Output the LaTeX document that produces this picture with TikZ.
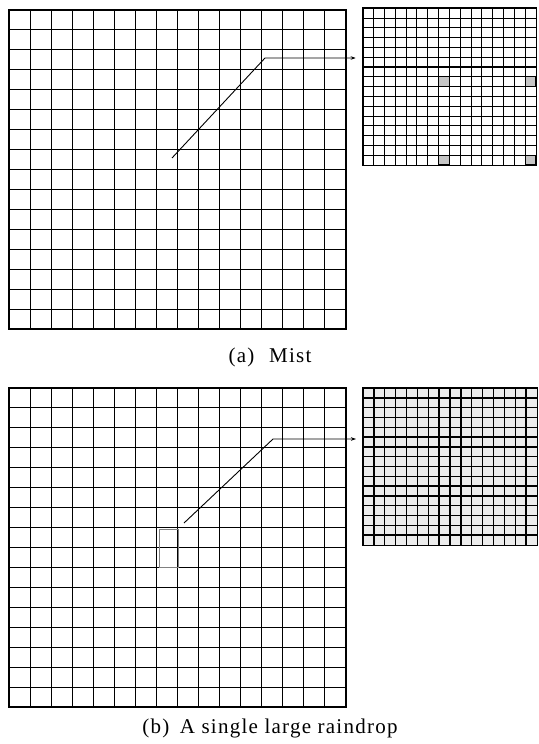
\documentclass[tikz,border=0pt]{standalone}
\usepackage{fontspec}
\setmainfont{Liberation Serif}
\usetikzlibrary{arrows.meta}
\begin{document}
\begin{tikzpicture}[x=1pt,y=-1pt,
  gridline/.style={line width=0.9pt,black},
  gridframe/.style={line width=1.7pt,black},
  smallline/.style={line width=0.9pt,black},
  denseline/.style={line width=1.4pt,black},
  dropcell/.style={fill=gray!45,draw=black,line width=1.2pt},
  connector/.style={line width=0.9pt,-{Stealth[length=5pt,width=3.5pt]}},
  caption/.style={font=\fontsize{21}{24}\selectfont\addfontfeatures{LetterSpace=6},anchor=base,inner sep=0pt}]
\useasboundingbox (0,0) rectangle (538,744);
% ---------- (a) Mist : large grid ----------
\foreach \i in {1,...,15}{
  \draw[gridline] ({9+\i*21.0625},10) -- ({9+\i*21.0625},329);
  \draw[gridline] (9,{10+\i*19.9375}) -- (346,{10+\i*19.9375});
}
\draw[gridframe] (9,10) rectangle (346,329);
% small grid (a)
\node[inner sep=0pt,minimum width=173.3pt,minimum height=156.7pt,anchor=north west] (sgA) at (362.7,8.3) {};
\foreach \c/\r in {7/7,15/7,7/15,15/15}{
  \draw[dropcell] ({362.7+\c*10.83},{8.3+\r*9.79}) rectangle ({362.7+(\c+1)*10.83},{8.3+(\r+1)*9.79});
}
\foreach \i in {1,...,15}{
  \draw[smallline] ({362.7+\i*10.83},8.3) -- ({362.7+\i*10.83},165);
  \draw[smallline] (362.7,{8.3+\i*9.79}) -- (536,{8.3+\i*9.79});
}
\draw[line width=1.2pt] (362.7,{8.3+6*9.79}) -- (536,{8.3+6*9.79});
\draw[gridframe] (sgA.north west) rectangle (sgA.south east);
% connector (a)
\coordinate (startA) at (172,158);
\coordinate (kinkA) at (265,58);
\draw[connector,shorten >=7pt] (startA) -- (kinkA) -- (sgA.west |- kinkA);
\node[caption] (capA) at (270,362) {(a)\hspace{0.7em}Mist};
% ---------- (b) A single large raindrop : large grid ----------
\foreach \i in {1,...,15}{
  \draw[gridline] ({9+\i*21.0625},388) -- ({9+\i*21.0625},707);
  \draw[gridline] (9,{388+\i*19.9375}) -- (346,{388+\i*19.9375});
}
\draw[gridframe] (9,388) rectangle (346,707);
\draw[line width=0.5pt,gray] (159.5,529) rectangle (178.5,567);
% small grid (b)
\node[inner sep=0pt,minimum width=174pt,minimum height=157pt,anchor=north west,fill=gray!15] (sgB) at (363,388) {};
\foreach \i in {1,...,15}{
  \draw[denseline] ({363+\i*10.875},388) -- ({363+\i*10.875},545);
  \draw[denseline] (363,{388+\i*9.8125}) -- (537,{388+\i*9.8125});
}
\draw[gridframe] (sgB.north west) rectangle (sgB.south east);
% connector (b)
\coordinate (startB) at (184,523);
\coordinate (kinkB) at (273,439);
\draw[connector,shorten >=7pt] (startB) -- (kinkB) -- (sgB.west |- kinkB);
\node[caption] (capB) at (270,733) {(b)\hspace{0.5em}A single large raindrop};
\end{tikzpicture}
\end{document}
